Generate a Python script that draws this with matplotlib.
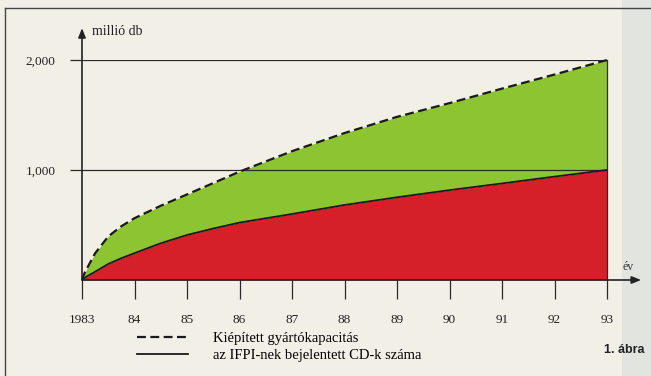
import matplotlib
matplotlib.use("Agg")
import matplotlib.pyplot as plt
from matplotlib.lines import Line2D
from matplotlib.patches import Rectangle

# évek (az első két évben sűrűbb mintavétel a görbe íve miatt)
years = [1983, 1983.05, 1983.1, 1983.25, 1983.5, 1983.75, 1984, 1984.5, 1985, 1985.5,
         1986, 1987, 1988, 1989, 1990, 1991, 1992, 1993]
# kiépített gyártókapacitás, millió db
capacity = [0, 65, 110, 243, 396, 489, 562, 675, 778, 881,
            985, 1171, 1336, 1483, 1608, 1740, 1868, 2000]
# az IFPI-nek bejelentett CD-k száma, millió db
reported = [0, 18, 35, 75, 146, 198, 244, 334, 409, 468,
            522, 600, 682, 752, 817, 878, 940, 1000]

year_ticks = list(range(1983, 1994))
year_labels = ["1983", "84", "85", "86", "87", "88", "89", "90", "91", "92", "93"]
y_ticks = [1000, 2000]
y_labels = ["1,000", "2,000"]

green = "#8dc432"
red = "#d51f29"
ink = "#2a2a2a"
paper = "#f2efe7"

plt.rcParams["font.family"] = ["Liberation Serif", "DejaVu Serif"]

fig = plt.figure(figsize=(6.51, 3.76), dpi=100)
fig.patch.set_facecolor(paper)
# a jobb szélen a következő oldal szürkés széle
fig.add_artist(Rectangle((622 / 651, 0), 1 - 622 / 651, 1, transform=fig.transFigure,
                         facecolor="#e2e4e0", edgecolor="none", zorder=0))

ax = fig.add_axes([82 / 651, 1 - 280 / 376, 525 / 651, 220 / 376])
ax.set_facecolor("none")
ax.set_xlim(1983, 1993)
ax.set_ylim(0, 2000)
for s in ax.spines.values():
    s.set_visible(False)

ax.fill_between(years, 0, reported, color=red, lw=0, zorder=1)
ax.fill_between(years, reported, capacity, color=green, lw=0, zorder=1)

ax.set_axisbelow(False)
ax.yaxis.grid(True, color=ink, lw=0.9, zorder=2)
ax.set_yticks(y_ticks)
ax.set_yticklabels(y_labels)
ax.tick_params(axis="y", length=8.6, width=0.9, color=ink, pad=10.5, labelsize=9.5, labelcolor="#222")
ax.set_xticks(year_ticks)
ax.set_xticklabels(year_labels)
ax.tick_params(axis="x", length=14, width=0.9, color=ink, pad=10.5, labelsize=9.5, labelcolor="#222")

ax.plot([1993, 1993], [0, 2000], color=ink, lw=0.9, clip_on=False, zorder=2)

ax.plot(years, capacity, color="#1a1a1a", lw=1.6, dashes=(4, 2), zorder=3,
        clip_on=False, label="Kiépített gyártókapacitás")
ax.plot(years, reported, color="#1a1a1a", lw=1.3, zorder=3,
        label="az IFPI-nek bejelentett CD-k száma")

# tengelyek nyíllal
arrow = dict(arrowstyle="-|>,head_length=0.55,head_width=0.22", color="#222", lw=1.2,
             shrinkA=0, shrinkB=0)
ax.annotate("", xy=(1983, 2290), xytext=(1983, 0), arrowprops=arrow, annotation_clip=False)
ax.annotate("", xy=(1993.65, 0), xytext=(1983, 0), arrowprops=arrow, annotation_clip=False)

ax.text(1983.19, 2262, "millió db", fontsize=10, va="center", ha="left", color="#222")
ax.text(1993.29, 118, "év", fontsize=8.5, va="center", ha="left", color="#333")

ax.legend(loc="upper left", bbox_to_anchor=(137 / 651, 1 - 332 / 376),
          bbox_transform=fig.transFigure, frameon=False, fontsize=10.5,
          handlelength=3.5, handletextpad=1.7, labelspacing=0.25,
          borderpad=0, borderaxespad=0)

fig.text(645 / 651, 1 - 350 / 376, "1. ábra", ha="right", va="center",
         fontsize=9, fontweight="bold", family="Liberation Sans", color="#222")

# keret bal és felső éle
fig.add_artist(Line2D([5 / 651, 5 / 651], [0, 1 - 8 / 376], color="#444", lw=1))
fig.add_artist(Line2D([5 / 651, 1], [1 - 8 / 376, 1 - 8 / 376], color="#444", lw=1))

fig.savefig("out.png", dpi=100, facecolor=fig.get_facecolor())
